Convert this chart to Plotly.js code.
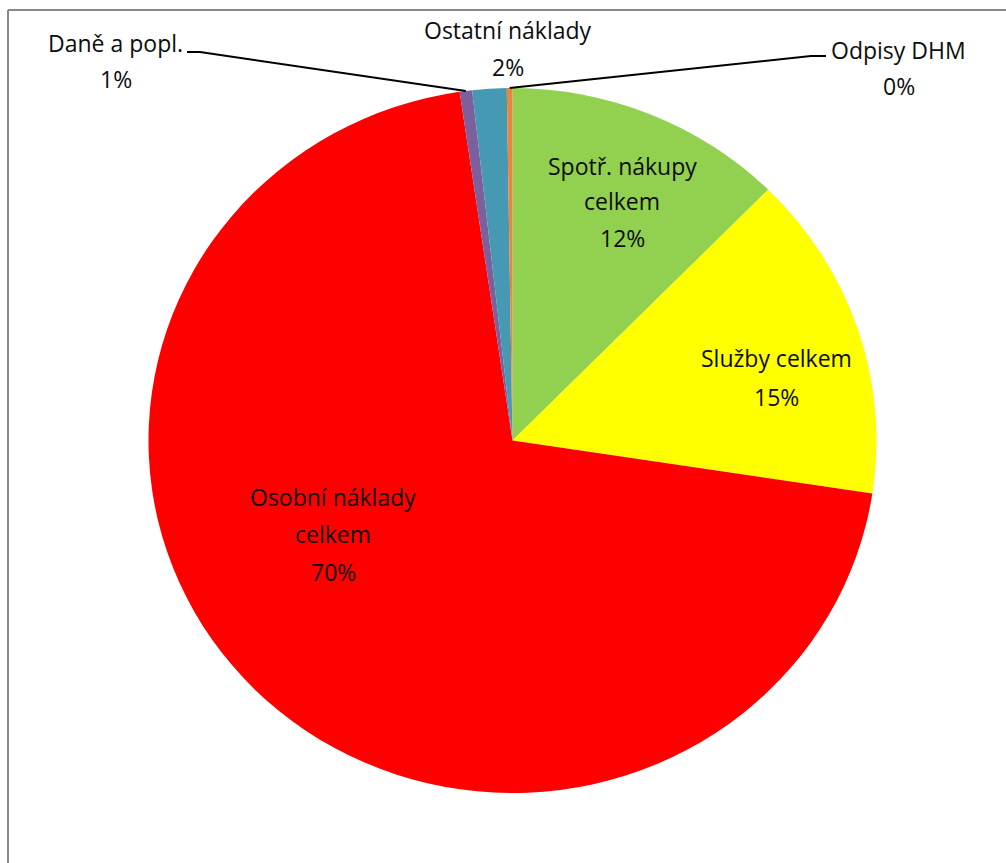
<!DOCTYPE html>
<html>
<head>
<meta charset="utf-8">
<script src="https://cdn.plot.ly/plotly-3.0.1.min.js"></script>
<style>
  html, body { margin: 0; padding: 0; background: #ffffff; }
  #chart { width: 1006px; height: 863px; }
</style>
</head>
<body>
<div id="chart"></div>
<script>
// ---- data ----
const labels = ['Spotř. nákupy celkem', 'Služby celkem', 'Osobní náklady celkem', 'Daně a popl.', 'Ostatní náklady', 'Odpisy DHM'];
const values = [12.4, 15.0, 70.28, 0.55, 1.52, 0.25];
const colors = ['#92D050', '#FFFF00', '#FF0000', '#7D5F9C', '#4699B3', '#E8863C'];

// ---- layout geometry (pixels) ----
const W = 1006, H = 863;
const cx = 512.5, cy = 440.5, ry = 352.5, rx = 364;
const px2x = p => p / W;
const px2y = p => 1 - p / H;

// label placement: x centre, y centres for each text line, and whether the name wraps
const labelPos = [
  { x: 622, y: [166, 201, 238], wrap: true },
  { x: 776.5, y: [358, 397], wrap: false },
  { x: 333, y: [497, 534, 572], wrap: true },
  { x: 115.5, y: [43, 79], wrap: false },
  { x: 507.5, y: [30, 67], wrap: false },
  { x: 898.5, y: [50, 86], wrap: false }
];
// leader lines: start of line at label (x, y) and the elbow x
const leaders = [
  null, null, null,
  { x0: 187, y0: 52, xe: 200 },
  null,
  { x0: 826, y0: 56, xe: 811 }
];

const total = values.reduce((a, b) => a + b, 0);
const pct = values.map(v => Math.round(v / total * 100) + '%');

const annotations = [];
labels.forEach((lab, i) => {
  const pos = labelPos[i];
  let lines;
  if (pos.wrap) {
    const k = lab.lastIndexOf(' ');
    lines = [lab.slice(0, k), lab.slice(k + 1)];
  } else {
    lines = [lab];
  }
  lines.push(pct[i]);
  lines.forEach((t, j) => {
    annotations.push({
      text: t, showarrow: false,
      xref: 'paper', yref: 'paper',
      x: px2x(pos.x), y: px2y(pos.y[j]),
      xanchor: 'center', yanchor: 'middle',
      font: { family: 'Open Sans, sans-serif', size: 23, color: '#0d0d0d' }
    });
  });
});

// leader lines from the slice mid-angle on the rim
const shapes = [];
let cum = 0;
values.forEach((v, i) => {
  const mid = (cum + v / 2) / total * 2 * Math.PI;
  cum += v;
  const L = leaders[i];
  if (!L) return;
  const ex = cx + rx * Math.sin(mid);
  const ey = cy - ry * Math.cos(mid);
  shapes.push({
    type: 'path', xref: 'paper', yref: 'paper',
    path: `M ${px2x(L.x0)} ${px2y(L.y0)} L ${px2x(L.xe)} ${px2y(L.y0)} L ${px2x(ex)} ${px2y(ey)}`,
    line: { color: '#000000', width: 2 }
  });
});
// chart frame (top and left edges visible)
shapes.push({ type: 'line', xref: 'paper', yref: 'paper', x0: px2x(8), x1: 1, y0: px2y(10), y1: px2y(10), line: { color: '#898989', width: 2 } });
shapes.push({ type: 'line', xref: 'paper', yref: 'paper', x0: px2x(8), x1: px2x(8), y0: px2y(10), y1: 0, line: { color: '#898989', width: 2 } });

const trace = {
  type: 'pie',
  labels: labels,
  values: values,
  sort: false,
  direction: 'clockwise',
  rotation: 0,
  textinfo: 'none',
  hoverinfo: 'skip',
  marker: { colors: colors, line: { width: 0 } },
  domain: { x: [px2x(cx - ry), px2x(cx + ry)], y: [px2y(cy + ry), px2y(cy - ry)] }
};

const layout = {
  width: W, height: H,
  margin: { l: 0, r: 0, t: 0, b: 0 },
  showlegend: false,
  paper_bgcolor: '#ffffff',
  annotations: annotations,
  shapes: shapes
};

Plotly.newPlot('chart', [trace], layout, { staticPlot: true, displayModeBar: false }).then(gd => {
  const g = gd.querySelector('.pielayer');
  if (g) {
    const s = rx / ry;
    g.setAttribute('transform', `translate(${cx},0) scale(${s},1) translate(${-cx},0)`);
  }
});
</script>
</body>
</html>
